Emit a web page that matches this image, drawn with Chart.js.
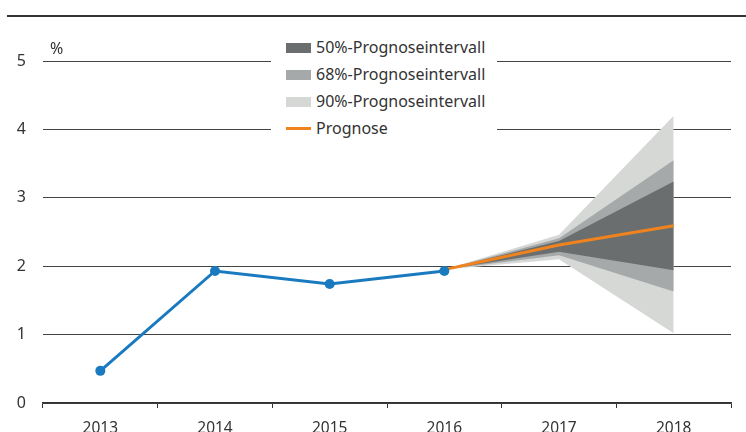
<!DOCTYPE html>
<html>
<head>
<meta charset="utf-8">
<script src="https://cdn.jsdelivr.net/npm/chart.js@4"></script>
<style>
  html, body { margin: 0; padding: 0; background: #fff; }
  body { width: 746px; height: 432px; position: relative; overflow: hidden; font-family: "Noto Sans", sans-serif; color: #333; }
  #topline { position: absolute; left: 7px; right: 0; top: 15px; height: 2px; background: #333; }
  #chartBox { position: absolute; left: 0; top: 0; width: 746px; height: 432px; }
  #unit { position: absolute; left: 50px; top: 37px; font-size: 16px; }
  #legend { position: absolute; left: 271px; top: 35px; width: 226px; height: 106px; background: #fff; }
  .item { position: absolute; left: 15px; height: 20px; font-size: 16px; line-height: 20px; white-space: nowrap; }
  .item .sw { display: inline-block; width: 25px; height: 10px; margin-right: 5px; vertical-align: 0px; }
  .item .ln { display: inline-block; width: 25px; height: 3px; margin-right: 5px; vertical-align: 4px; background: #f0831e; }
</style>
</head>
<body>
<div id="topline"></div>
<div id="chartBox"><canvas id="chart" width="746" height="432"></canvas></div>
<div id="unit">%</div>
<div id="legend"></div>
<script>
// Werte
const years = ["2013", "2014", "2015", "2016", "2017", "2018"];
const actual = [0.47, 1.93, 1.74, 1.93, null, null];
const forecast = [null, null, null, 1.95, 2.31, 2.59];
const hi50 = [null, null, null, 1.95, 2.37, 3.24];
const lo50 = [null, null, null, 1.95, 2.21, 1.94];
const hi68 = [null, null, null, 1.95, 2.41, 3.55];
const lo68 = [null, null, null, 1.95, 2.16, 1.63];
const hi90 = [null, null, null, 1.95, 2.46, 4.2];
const lo90 = [null, null, null, 1.95, 2.1, 1.02];

const legendItems = [
  { label: "50%-Prognoseintervall", color: "#6b6e6e" },
  { label: "68%-Prognoseintervall", color: "#a6a9a9" },
  { label: "90%-Prognoseintervall", color: "#d6d8d6" },
  { label: "Prognose", line: true }
];

// HTML-Legende im weißen Kasten über den Gitterlinien
const legendEl = document.getElementById("legend");
legendItems.forEach((it, i) => {
  const row = document.createElement("div");
  row.className = "item";
  row.style.top = (2 + i * 27) + "px";
  row.innerHTML = (it.line ? '<span class="ln"></span>' : '<span class="sw" style="background:' + it.color + '"></span>') + it.label;
  legendEl.appendChild(row);
});

function band(data, fillTo, color, order) {
  return {
    data,
    fill: fillTo,
    backgroundColor: color,
    borderWidth: 0,
    pointRadius: 0,
    order
  };
}

new Chart(document.getElementById("chart"), {
  type: "line",
  data: {
    labels: years,
    datasets: [
      { data: actual, borderColor: "#1a7abf", backgroundColor: "#1a7abf", borderWidth: 3, pointRadius: 5, pointBorderWidth: 0, fill: false, order: 0 },
      { data: forecast, borderColor: "#f0831e", borderWidth: 3, pointRadius: 0, fill: false, order: 1 },
      band(hi50, 3, "#6b6e6e", 2),
      band(lo50, false, "#6b6e6e", 2),
      band(hi68, 5, "#a6a9a9", 3),
      band(lo68, false, "#a6a9a9", 3),
      band(hi90, 7, "#d6d8d6", 4),
      band(lo90, false, "#d6d8d6", 4)
    ]
  },
  options: {
    responsive: false,
    animation: false,
    events: [],
    layout: { padding: { top: 61, right: 15, left: 0, bottom: 0 } },
    plugins: { legend: { display: false }, tooltip: { enabled: false } },
    scales: {
      x: {
        offset: true,
        grid: { offset: true, drawOnChartArea: false, tickLength: 5, color: "#333", lineWidth: 1 },
        border: { color: "#333", width: 1.5 },
        ticks: { color: "#333", font: { family: "Noto Sans", size: 15.5 }, padding: 11, maxRotation: 0 },
        afterFit: s => { s.height = 29; }
      },
      y: {
        min: 0,
        max: 5,
        ticks: { stepSize: 1, color: "#333", font: { family: "Noto Sans", size: 16 }, padding: 17 },
        grid: { color: "#444", lineWidth: 1, drawTicks: false },
        border: { display: false },
        afterFit: s => { s.width = 43; }
      }
    }
  }
});
</script>
</body>
</html>
